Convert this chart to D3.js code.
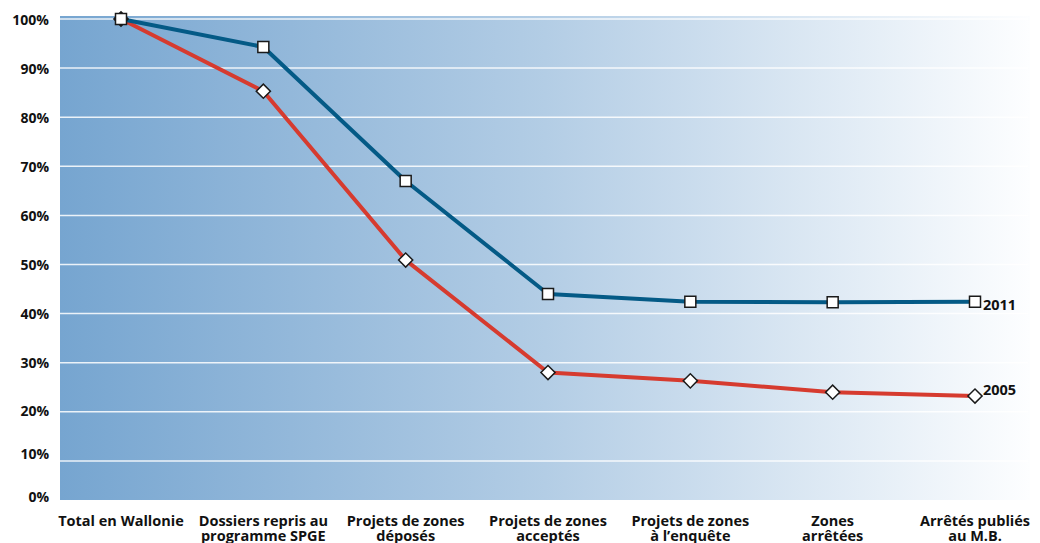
<!DOCTYPE html>
<html>
<head>
<meta charset="utf-8">
<script src="https://cdn.jsdelivr.net/npm/d3@7"></script>
<style>
  html, body { margin: 0; padding: 0; background: #fff; }
  svg { display: block; }
  text { font-family: "Open Sans", "DejaVu Sans", sans-serif; font-weight: bold; fill: #111; }
</style>
</head>
<body>
<svg id="chart" width="1040" height="543"></svg>
<script>
// Stages of the procedure (two-line labels)
const categories = [
  ["Total en Wallonie"],
  ["Dossiers repris au", "programme SPGE"],
  ["Projets de zones", "déposés"],
  ["Projets de zones", "acceptés"],
  ["Projets de zones", "à l’enquête"],
  ["Zones", "arrêtées"],
  ["Arrêtés publiés", "au M.B."]
];
// Share of files reaching each stage (%)
const values2011 = [100, 94.3, 67.0, 44.0, 42.4, 42.3, 42.4];
const values2005 = [100, 85.3, 50.9, 28.0, 26.3, 24.0, 23.2];
const seriesNames = ["2011", "2005"];
const yTicks = [0, 10, 20, 30, 40, 50, 60, 70, 80, 90, 100];

const svg = d3.select("#chart");
const plot = { left: 60, right: 1030, top: 16, bottom: 500 };

const x = d3.scalePoint()
  .domain(d3.range(categories.length))
  .range([121, 975]);

const y = d3.scaleLinear().domain([0, 100]).range([510, 19]);
// tick labels sit on a slightly compressed scale near the bottom
const yLab = d3.scaleLinear().domain([0, 20, 100]).range([497, 411, 20]);

// background gradient
const defs = svg.append("defs");
const grad = defs.append("linearGradient").attr("id", "bg")
  .attr("x1", "0%").attr("x2", "100%").attr("y1", "0%").attr("y2", "0%");
grad.append("stop").attr("offset", "0%").attr("stop-color", "#76a5d0");
grad.append("stop").attr("offset", "50%").attr("stop-color", "#b3cde5");
grad.append("stop").attr("offset", "100%").attr("stop-color", "#fdfeff");

defs.append("clipPath").attr("id", "plotClip").append("rect")
  .attr("x", plot.left).attr("y", plot.top)
  .attr("width", plot.right - plot.left).attr("height", plot.bottom - plot.top);

svg.append("rect")
  .attr("x", plot.left).attr("y", plot.top)
  .attr("width", plot.right - plot.left).attr("height", plot.bottom - plot.top)
  .attr("fill", "url(#bg)");

// gridlines
svg.append("g").attr("clip-path", "url(#plotClip)")
  .selectAll("line").data(yTicks.filter(d => d > 0)).join("line")
  .attr("x1", plot.left).attr("x2", plot.right - 2)
  .attr("y1", d => y(d)).attr("y2", d => y(d))
  .attr("stroke", "#ffffff").attr("stroke-opacity", 0.85).attr("stroke-width", 1.5);

// y axis labels
const yAxis = d3.axisLeft(yLab).tickValues(yTicks).tickFormat(d => d + "%").tickSize(0).tickPadding(0);
const gy = svg.append("g").attr("transform", "translate(49,0)").call(yAxis);
gy.select(".domain").remove();
gy.selectAll("text").style("font-size", "14px").attr("fill", "#111").attr("dy", "0.35em");

// x axis labels
const gx = svg.append("g");
categories.forEach((lines, i) => {
  const t = gx.append("text")
    .attr("x", x(i)).attr("y", 526)
    .attr("text-anchor", "middle")
    .style("font-size", "14.5px");
  lines.forEach((ln, k) => {
    t.append("tspan").attr("x", x(i)).attr("dy", k === 0 ? 0 : 14.5).text(ln);
  });
});

const line = d3.line().x((d, i) => x(i)).y(d => y(d));

// lines
svg.append("path").datum(values2005)
  .attr("d", line).attr("fill", "none")
  .attr("stroke", "#d63b2f").attr("stroke-width", 4).attr("stroke-linejoin", "round");
svg.append("path").datum(values2011)
  .attr("d", line).attr("fill", "none")
  .attr("stroke", "#045a86").attr("stroke-width", 4).attr("stroke-linejoin", "round");

// 2005 markers: diamonds
const diamond = d3.symbol().type(d3.symbolSquare).size(100);
svg.append("g").selectAll("path").data(values2005).join("path")
  .attr("d", diamond)
  .attr("transform", (d, i) => `translate(${x(i)},${y(d)}) rotate(45)`)
  .attr("fill", "#fff").attr("stroke", "#1a1a1a").attr("stroke-width", 1.5);

// 2011 markers: squares
const square = d3.symbol().type(d3.symbolSquare).size(121);
svg.append("g").selectAll("path").data(values2011).join("path")
  .attr("d", square)
  .attr("transform", (d, i) => `translate(${x(i)},${y(d)})`)
  .attr("fill", "#fff").attr("stroke", "#1a1a1a").attr("stroke-width", 1.5);

// series labels at the last point
const last = categories.length - 1;
svg.append("text")
  .attr("x", x(last) + 8).attr("y", y(values2011[last]) + 8)
  .style("font-size", "14.5px").text(seriesNames[0]);
svg.append("text")
  .attr("x", x(last) + 8).attr("y", y(values2005[last]) - 1)
  .style("font-size", "14.5px").text(seriesNames[1]);
</script>
</body>
</html>
